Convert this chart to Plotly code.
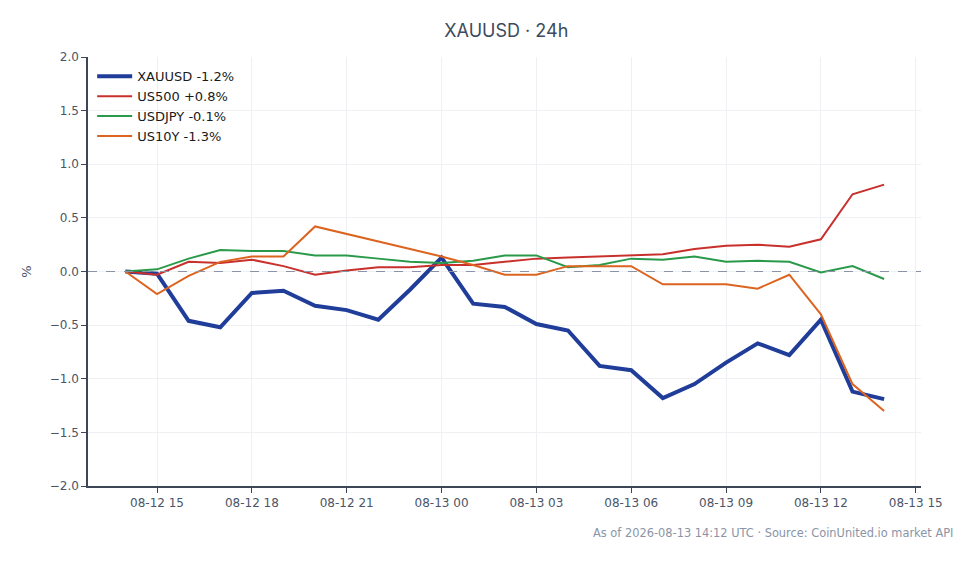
import pandas as pd
import plotly.graph_objects as go

# horas de 08-12 14:00 a 08-13 14:00 (UTC)
horas = pd.date_range("2026-08-12 14:00", "2026-08-13 14:00", freq="h")

xauusd = [0.00, -0.02, -0.46, -0.52, -0.20, -0.18, -0.32, -0.36, -0.45, -0.17, 0.13, -0.30,
          -0.33, -0.49, -0.55, -0.88, -0.92, -1.18, -1.05, -0.85, -0.67, -0.78, -0.45, -1.12, -1.19]
us500 = [0.00, -0.03, 0.09, 0.08, 0.11, 0.05, -0.03, 0.01, 0.04, 0.04, 0.06, 0.06,
         0.09, 0.12, 0.13, 0.14, 0.15, 0.16, 0.21, 0.24, 0.25, 0.23, 0.30, 0.72, 0.81]
usdjpy = [0.00, 0.02, 0.12, 0.20, 0.19, 0.19, 0.15, 0.15, 0.12, 0.09, 0.08, 0.10,
          0.15, 0.15, 0.04, 0.06, 0.12, 0.11, 0.14, 0.09, 0.10, 0.09, -0.01, 0.05, -0.07]
us10y = [0.00, -0.21, -0.04, 0.09, 0.14, 0.14, 0.42, 0.35, 0.28, 0.21, 0.14, 0.06,
         -0.03, -0.03, 0.05, 0.05, 0.05, -0.12, -0.12, -0.12, -0.16, -0.03, -0.40, -1.05, -1.30]

series = [
    ("XAUUSD -1.2%", xauusd, "#1f3d99", 4),
    ("US500 +0.8%", us500, "#c8302c", 2),
    ("USDJPY -0.1%", usdjpy, "#2a9a4a", 2),
    ("US10Y -1.3%", us10y, "#dc6420", 2),
]

fig = go.Figure()
for nome, valores, cor, largura in series:
    fig.add_trace(go.Scatter(x=horas, y=valores, mode="lines", name=nome,
                             line=dict(color=cor, width=largura)))

# linha de referencia no zero
fig.add_hline(y=0, line=dict(color="#8a94a6", width=1, dash="dash"))

eixo = dict(showline=True, linecolor="#3c4656", linewidth=1.5, ticks="outside",
            ticklen=5, tickcolor="#3c4656", gridcolor="#eef0f3", zeroline=False,
            tickfont=dict(family="DejaVu Sans", size=12, color="#4a5568"))

fig.update_layout(
    title=dict(text="XAUUSD · 24h", x=0.509, y=0.959, yanchor="middle", xanchor="center",
               font=dict(family="Inter", size=18, color="#3c4a5c")),
    width=979, height=564,
    margin=dict(l=80, r=66, t=49, b=86),
    plot_bgcolor="white", paper_bgcolor="white",
    xaxis=dict(**eixo, range=["2026-08-12 12:49", "2026-08-13 15:10"],
               dtick=3 * 3600 * 1000, tick0="2026-08-12 15:00", tickformat="%m-%d %H"),
    yaxis=dict(**eixo, range=[-2, 2], dtick=0.5, tickformat=".1f",
               title=dict(text="%", font=dict(family="DejaVu Sans", size=13, color="#4a5568"))),
    legend=dict(x=0.005, y=0.99, xanchor="left", yanchor="top", bgcolor="rgba(255,255,255,0)",
                itemwidth=35,
                font=dict(family="DejaVu Sans", size=13, color="#1a1a1a")),
    annotations=[dict(text="As of 2026-08-13 14:12 UTC · Source: CoinUnited.io market API",
                      xref="paper", yref="paper", x=1.041, y=-0.11, xanchor="right",
                      yanchor="middle", showarrow=False,
                      font=dict(family="DejaVu Sans", size=11.4, color="#8a94a6"))],
)

fig.write_html("out.html")
